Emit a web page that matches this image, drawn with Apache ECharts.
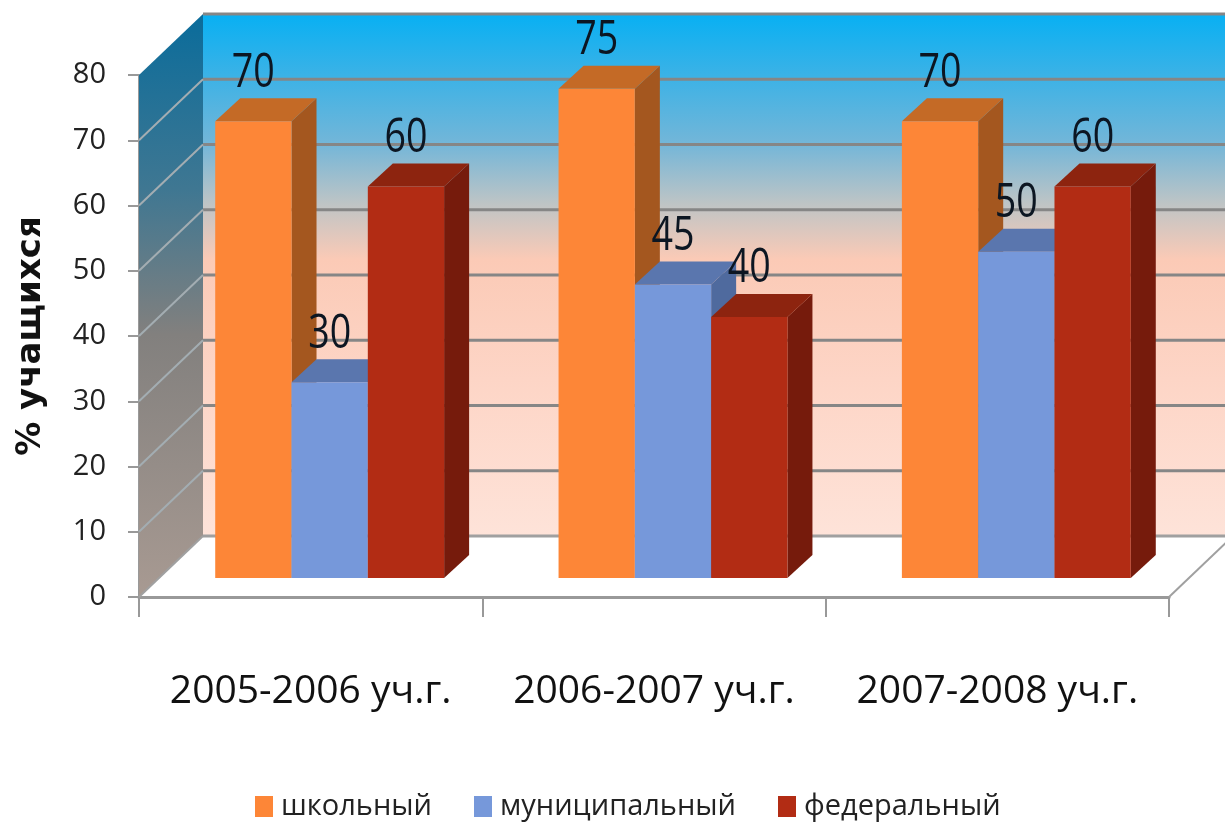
<!DOCTYPE html>
<html lang="ru">
<head>
    <meta charset="UTF-8">
    <title>% учащихся</title>
    <script src="https://cdn.jsdelivr.net/npm/echarts@6/dist/echarts.min.js"></script>
    <style>
        html, body { margin: 0; padding: 0; background: #fff; }
        #chart { width: 1225px; height: 825px; }
    </style>
</head>
<body>
<div id="chart"></div>
<script>
    var categories = ['2005-2006 уч.г.', '2006-2007 уч.г.', '2007-2008 уч.г.'];
    var seriesNames = ['школьный', 'муниципальный', 'федеральный'];
    var schoolValues = [70, 75, 70];
    var municipalValues = [30, 45, 50];
    var federalValues = [60, 40, 60];
    var gridValues = [10, 20, 30, 40, 50, 60, 70, 80];

    var textFont = '"Open Sans", sans-serif';
    var WALL_DX = 64, WALL_DY = -61;   // глубина стенок
    var BAR_DX = 25, BAR_DY = -23;     // глубина столбиков
    var BAR_SHIFT = 19;                // столбики стоят в середине пола

    // задняя стенка, боковая стенка и линии сетки
    function renderWalls(params, api) {
        var origin = api.coord([0, 0]);
        var left = origin[0] - api.size([1, 0])[0] / 2;
        var right = left + api.size([1, 0])[0] * categories.length;
        var bottom = origin[1];
        var top = api.coord([0, 80])[1];
        var backLeft = left + WALL_DX;
        var children = [];
        children.push({
            type: 'rect',
            shape: { x: backLeft, y: top + WALL_DY, width: 1225 - backLeft, height: bottom - top },
            style: {
                fill: new echarts.graphic.LinearGradient(0, 0, 0, 1, [
                    { offset: 0, color: '#08b0f3' },
                    { offset: 0.12, color: '#3cb2e6' },
                    { offset: 0.25, color: '#74b6d8' },
                    { offset: 0.36, color: '#bcc4c6' },
                    { offset: 0.47, color: '#fbcab6' },
                    { offset: 0.7, color: '#fdd5c6' },
                    { offset: 1, color: '#fee3d9' }
                ])
            }
        });
        children.push({
            type: 'polygon',
            shape: { points: [[left, top], [backLeft, top + WALL_DY], [backLeft, bottom + WALL_DY], [left, bottom]] },
            style: {
                fill: new echarts.graphic.LinearGradient(0, 0, 0, 1, [
                    { offset: 0, color: '#0a6c9b' },
                    { offset: 0.3, color: '#3f7792' },
                    { offset: 0.55, color: '#82807e' },
                    { offset: 1, color: '#a89a92' }
                ])
            }
        });
        gridValues.forEach(function (v) {
            var y = api.coord([0, v])[1];
            children.push({
                type: 'line',
                shape: { x1: backLeft, y1: y + WALL_DY, x2: 1225, y2: y + WALL_DY },
                style: { stroke: '#868686', lineWidth: 3 }
            });
            if (v < 80) {
                children.push({
                    type: 'line',
                    shape: { x1: left, y1: y, x2: backLeft, y2: y + WALL_DY },
                    style: { stroke: '#a3adb2', lineWidth: 2 }
                });
            }
        });
        // линии пола
        children.push({
            type: 'line',
            shape: { x1: backLeft, y1: bottom + WALL_DY, x2: 1225, y2: bottom + WALL_DY },
            style: { stroke: '#a0a0a0', lineWidth: 3 }
        });
        children.push({
            type: 'line',
            shape: { x1: left, y1: bottom, x2: backLeft, y2: bottom + WALL_DY },
            style: { stroke: '#a0a0a0', lineWidth: 2 }
        });
        children.push({
            type: 'line',
            shape: { x1: right, y1: bottom, x2: right + WALL_DX, y2: bottom + WALL_DY },
            style: { stroke: '#a0a0a0', lineWidth: 2 }
        });
        return { type: 'group', children: children };
    }

    function barRenderer(index, colors) {
        return function (params, api) {
            var catIndex = api.value(0);
            var band = api.size([1, 0])[0];
            var barWidth = band / 4.5;
            var topPoint = api.coord([catIndex, api.value(1)]);
            var zeroPoint = api.coord([catIndex, 0]);
            var x = topPoint[0] + (index - 1.5) * barWidth + BAR_SHIFT;
            var yTop = topPoint[1] - BAR_SHIFT;
            var yBottom = zeroPoint[1] - BAR_SHIFT;
            return {
                type: 'group',
                children: [
                    {
                        type: 'polygon',
                        shape: { points: [[x + barWidth, yTop], [x + barWidth + BAR_DX, yTop + BAR_DY], [x + barWidth + BAR_DX, yBottom + BAR_DY], [x + barWidth, yBottom]] },
                        style: { fill: colors.side }
                    },
                    {
                        type: 'polygon',
                        shape: { points: [[x, yTop], [x + BAR_DX, yTop + BAR_DY], [x + barWidth + BAR_DX, yTop + BAR_DY], [x + barWidth, yTop]] },
                        style: { fill: colors.top }
                    },
                    {
                        type: 'rect',
                        shape: { x: x, y: yTop, width: barWidth, height: yBottom - yTop },
                        style: { fill: colors.front }
                    },
                    {
                        type: 'text',
                        z2: 50,
                        x: x + barWidth / 2,
                        y: yTop - 48,
                        scaleX: 0.8,
                        style: {
                            text: String(api.value(1)),
                            x: 0,
                            y: 0,
                            align: 'center',
                            verticalAlign: 'middle',
                            fill: '#0c1622',
                            font: '47px ' + textFont
                        }
                    }
                ]
            };
        };
    }

    function barData(values) {
        return values.map(function (v, i) { return [i, v]; });
    }

    var chart = echarts.init(document.getElementById('chart'));

    chart.setOption({
        animation: false,
        legend: {
            data: seriesNames,
            left: 250,
            top: 787,
            icon: 'rect',
            itemWidth: 18,
            itemHeight: 21,
            itemGap: 42,
            textStyle: {
                fontFamily: textFont,
                fontSize: 29,
                color: '#222',
                padding: [0, 0, 0, 3]
            }
        },
        grid: { left: 139, top: 75, width: 1030, height: 522, outerBoundsMode: 'none' },
        xAxis: {
            type: 'category',
            data: categories,
            axisLine: { lineStyle: { color: '#999', width: 3 } },
            axisTick: { show: true, length: 20, lineStyle: { color: '#999', width: 2 } },
            axisLabel: {
                margin: 75,
                interval: 0,
                fontFamily: textFont,
                fontSize: 39,
                color: '#111'
            }
        },
        yAxis: {
            type: 'value',
            min: 0,
            max: 80,
            interval: 10,
            name: '% учащихся',
            nameLocation: 'middle',
            nameRotate: 90,
            nameGap: 91,
            nameTextStyle: {
                fontFamily: '"DejaVu Sans", sans-serif',
                fontWeight: 'bold',
                fontSize: 34,
                color: '#111'
            },
            splitLine: { show: false },
            axisLine: { show: true, lineStyle: { color: '#999', width: 2 } },
            axisTick: { show: true, length: 11, lineStyle: { color: '#999', width: 2 } },
            axisLabel: {
                margin: 33,
                padding: [9, 0, 0, 0],
                fontFamily: textFont,
                fontSize: 29,
                color: '#222'
            }
        },
        series: [
            {
                type: 'custom',
                silent: true,
                z: 1,
                renderItem: renderWalls,
                data: [[0, 0]]
            },
            {
                name: seriesNames[0],
                type: 'custom',
                z: 3,
                itemStyle: { color: '#fd8637' },
                renderItem: barRenderer(0, { front: '#fd8637', top: '#c46a26', side: '#a4571f' }),
                data: barData(schoolValues)
            },
            {
                name: seriesNames[1],
                type: 'custom',
                z: 4,
                itemStyle: { color: '#7698da' },
                renderItem: barRenderer(1, { front: '#7698da', top: '#5a76ae', side: '#4f6a9e' }),
                data: barData(municipalValues)
            },
            {
                name: seriesNames[2],
                type: 'custom',
                z: 5,
                itemStyle: { color: '#b22c14' },
                renderItem: barRenderer(2, { front: '#b22c14', top: '#8d240f', side: '#761b0c' }),
                data: barData(federalValues)
            }
        ]
    });
</script>
</body>
</html>
